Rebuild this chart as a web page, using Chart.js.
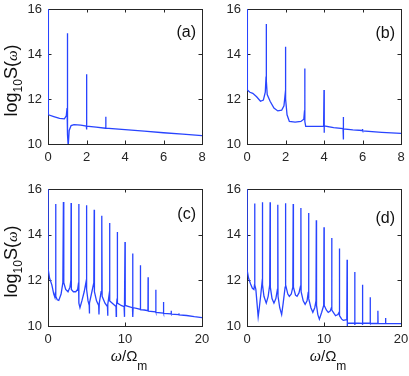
<!DOCTYPE html>
<html>
<head>
<meta charset="utf-8">
<script src="https://cdn.jsdelivr.net/npm/chart.js@4.4.1/dist/chart.umd.min.js"></script>
<style>
  html, body { margin: 0; padding: 0; background: #fff; }
  #wrap { position: relative; width: 409px; height: 376px; }
  #wrap canvas { position: absolute; left: 0; top: 0; }
</style>
</head>
<body>
<div id="wrap">
  <canvas id="pa" width="409" height="376"></canvas>
  <canvas id="pb" width="409" height="376"></canvas>
  <canvas id="pc" width="409" height="376"></canvas>
  <canvas id="pd" width="409" height="376"></canvas>
</div>
<script>
// panel (a)
const xA = [0.005, 0.02, 0.3, 0.6, 0.85, 0.95, 0.99, 1.0, 1.01, 1.03, 1.05, 1.1, 1.2, 1.35, 1.7, 1.99, 2.0, 2.005, 2.02, 2.5, 2.99, 3.0, 3.01, 4, 5, 6, 7, 8];
const yA = [16, 11.3, 11.22, 11.14, 11.12, 11.25, 11.6, 14.92, 11.2, 10.4, 9.9, 10.6, 10.82, 10.86, 10.84, 10.8, 13.1, 10.65, 10.79, 10.75, 10.7, 11.21, 10.7, 10.64, 10.57, 10.5, 10.44, 10.37];

// panel (b)
const xB = [0.005, 0.02, 0.15, 0.3, 0.5, 0.7, 0.85, 0.95, 0.99, 1.0, 1.01, 1.05, 1.2, 1.4, 1.6, 1.8, 1.92, 1.98, 2.0, 2.01, 2.08, 2.2, 2.5, 2.8, 2.95, 2.99, 3.0, 3.01, 3.05, 3.2, 3.6, 3.98, 4.0, 4.005, 4.02, 4.5, 4.99, 5.0, 5.005, 5.02, 5.5, 5.99, 6.0, 6.01, 7, 8];
const yB = [16, 12.4, 12.3, 12.25, 12.1, 11.9, 11.95, 12.3, 13.0, 15.33, 12.8, 12.2, 11.9, 11.6, 11.47, 11.5, 11.7, 12.2, 14.32, 12.0, 11.3, 11.0, 10.97, 11.0, 11.1, 11.5, 13.36, 11.0, 10.78, 10.78, 10.78, 10.78, 12.4, 10.5, 10.8, 10.73, 10.68, 11.2, 10.2, 10.67, 10.63, 10.6, 10.67, 10.58, 10.52, 10.47];

// panel (c)
const xC = [0.005, 0.02, 0.2, 0.5, 0.75, 0.9, 0.97, 1.0, 1.02, 1.2, 1.4, 1.7, 1.93, 2.0, 2.05, 2.3, 2.6, 2.85, 2.97, 3.0, 3.03, 3.3, 3.6, 3.85, 3.97, 4.0, 4.02, 4.15, 4.4, 4.7, 4.95, 5.0, 5.03, 5.2, 5.35, 5.37, 5.4, 5.7, 5.95, 6.0, 6.03, 6.3, 6.58, 6.62, 6.66, 6.9, 6.97, 7.0, 7.03, 7.4, 7.72, 7.75, 7.78, 7.95, 8.0, 8.03, 8.5, 8.83, 8.86, 8.89, 8.97, 9.0, 9.03, 9.5, 9.88, 9.9, 9.93, 9.98, 10.0, 10.03, 10.5, 10.97, 11.0, 11.02, 11.05, 11.5, 11.98, 12.0, 12.02, 12.5, 12.98, 13.0, 13.02, 13.99, 14.0, 14.02, 14.99, 15.0, 15.02, 15.99, 16.0, 16.02, 16.99, 17.0, 17.02, 18, 19, 20];
const yC = [16, 12.5, 12.1, 11.8, 11.4, 11.25, 11.5, 15.34, 11.3, 11.15, 11.12, 11.4, 11.9, 15.43, 11.9, 11.6, 11.5, 11.7, 12.0, 15.39, 11.6, 11.5, 11.5, 11.6, 11.9, 15.34, 11.0, 10.8, 11.1, 11.5, 11.95, 15.29, 11.6, 11.1, 10.9, 10.55, 11.0, 11.5, 11.9, 15.09, 11.5, 11.1, 10.9, 10.5, 11.0, 11.5, 11.7, 14.83, 11.3, 11.0, 10.85, 10.45, 10.95, 11.4, 14.51, 11.1, 10.95, 10.85, 10.42, 10.9, 11.2, 14.12, 11.0, 10.9, 10.85, 10.4, 10.88, 11.0, 13.68, 10.9, 10.85, 10.8, 13.18, 10.4, 10.8, 10.77, 10.73, 12.66, 10.72, 10.7, 10.67, 12.13, 10.65, 10.62, 11.59, 10.6, 10.57, 11.05, 10.55, 10.53, 10.67, 10.52, 10.5, 10.55, 10.49, 10.46, 10.41, 10.37];

// panel (d)
const xD = [0.005, 0.02, 0.2, 0.45, 0.7, 0.9, 0.97, 1.0, 1.02, 1.15, 1.3, 1.45, 1.6, 1.8, 1.95, 2.0, 2.03, 2.2, 2.5, 2.75, 2.95, 3.0, 3.03, 3.25, 3.5, 3.75, 3.95, 4.0, 4.03, 4.25, 4.5, 4.7, 4.95, 5.0, 5.03, 5.3, 5.5, 5.75, 5.95, 6.0, 6.03, 6.3, 6.5, 6.75, 6.95, 7.0, 7.03, 7.3, 7.55, 7.8, 7.96, 8.0, 8.03, 8.3, 8.55, 8.8, 8.96, 9.0, 9.03, 9.2, 9.4, 9.7, 9.96, 10.0, 10.03, 10.3, 10.55, 10.8, 10.96, 11.0, 11.03, 11.3, 11.5, 11.8, 11.96, 12.0, 12.03, 12.3, 12.5, 12.96, 13.0, 13.01, 13.05, 13.99, 14.0, 14.01, 14.03, 14.99, 15.0, 15.01, 15.03, 15.99, 16.0, 16.02, 16.99, 17.0, 17.02, 17.99, 18.0, 18.02, 18.99, 19.0, 19.02, 20];
const yD = [16, 12.45, 12.1, 11.85, 11.65, 11.6, 11.8, 15.36, 11.8, 11.6, 11.0, 10.4, 10.8, 11.4, 11.9, 15.42, 11.8, 11.3, 11.0, 11.3, 11.8, 15.42, 11.7, 11.2, 11.0, 11.2, 11.6, 15.31, 11.3, 10.8, 10.5, 11.0, 11.7, 15.38, 11.8, 11.4, 11.3, 11.4, 11.7, 15.34, 11.7, 11.35, 11.3, 11.45, 11.75, 15.17, 11.5, 11.1, 10.95, 11.1, 11.5, 14.95, 11.2, 10.8, 10.6, 10.8, 11.1, 14.63, 10.9, 10.5, 10.3, 10.6, 10.9, 14.32, 10.9, 10.7, 10.6, 10.65, 10.8, 13.85, 10.7, 10.55, 10.45, 10.5, 10.6, 13.39, 10.45, 10.3, 10.25, 10.28, 12.9, 10.0, 10.12, 10.13, 12.36, 10.05, 10.13, 10.12, 11.81, 10.05, 10.12, 10.12, 11.26, 10.11, 10.11, 10.67, 10.1, 10.1, 10.35, 10.1, 10.1, 10.13, 10.1, 10.1];

// tick labels
const xTicksTop = [0, 2, 4, 6, 8];
const xTicksBottom = [0, 10, 20];
const yTicks = [10, 12, 14, 16];

const W = 409, H = 376;
const YW = 40, XH = 20;
const lineColor = 'rgb(40,68,255)';
const axisColor = '#262626';
const sans = "'Liberation Sans', Arial, sans-serif";
const serif = "'Liberation Serif', 'Times New Roman', serif";

// frame and inward ticks go under the curve, labels on top
const decoPlugin = {
  id: 'deco',
  beforeDatasetsDraw(chart) {
    const ctx = chart.ctx;
    const a = chart.chartArea;
    const xs = chart.scales.x, ys = chart.scales.y;
    const tl = 3.5;
    ctx.save();
    ctx.strokeStyle = axisColor;
    ctx.lineWidth = 1;
    ctx.strokeRect(Math.round(a.left) + 0.5, Math.round(a.top) + 0.5, Math.round(a.right - a.left), Math.round(a.bottom - a.top));
    ctx.beginPath();
    xs.ticks.forEach(t => {
      const px = Math.round(xs.getPixelForValue(t.value)) + 0.5;
      ctx.moveTo(px, a.bottom); ctx.lineTo(px, a.bottom - tl);
      ctx.moveTo(px, a.top); ctx.lineTo(px, a.top + tl);
    });
    ys.ticks.forEach(t => {
      const py = Math.round(ys.getPixelForValue(t.value)) + 0.5;
      ctx.moveTo(a.left, py); ctx.lineTo(a.left + tl, py);
      ctx.moveTo(a.right, py); ctx.lineTo(a.right - tl, py);
    });
    ctx.stroke();
    ctx.restore();
  },
  afterDraw(chart, args, opts) {
    const ctx = chart.ctx;
    const a = chart.chartArea;
    ctx.save();

    // panel letter
    ctx.fillStyle = '#111';
    ctx.font = '16px ' + sans;
    ctx.textAlign = 'right';
    ctx.textBaseline = 'middle';
    ctx.fillText(opts.letter, a.right - 6, a.top + opts.letterDy);

    // y label: log10 S(w)
    if (opts.ylab) {
      const parts = [
        { t: 'log', f: '18px ' + sans, dy: 0 },
        { t: '10', f: '12px ' + sans, dy: 5 },
        { t: 'S(', f: '18px ' + sans, dy: 0 },
        { t: 'ω', f: 'italic 15px ' + serif, dy: 0 },
        { t: ')', f: '18px ' + sans, dy: 0 }
      ];
      let len = 0;
      parts.forEach(p => { ctx.font = p.f; p.w = ctx.measureText(p.t).width; len += p.w; });
      ctx.translate(16.5, (a.top + a.bottom) / 2 + 4);
      ctx.rotate(-Math.PI / 2);
      ctx.textAlign = 'left';
      ctx.textBaseline = 'alphabetic';
      let x = -len / 2;
      parts.forEach(p => { ctx.font = p.f; ctx.fillText(p.t, x, p.dy); x += p.w; });
      ctx.setTransform(1, 0, 0, 1, 0, 0);
    }

    // x label: w / Omega_m
    if (opts.xlab) {
      const parts = [
        { t: 'ω', f: 'italic 16px ' + serif, dy: 0 },
        { t: '/Ω', f: '15px ' + sans, dy: 0 },
        { t: 'm', f: '12px ' + sans, dy: 9 }
      ];
      let len = 0;
      parts.forEach(p => { ctx.font = p.f; p.w = ctx.measureText(p.t).width; len += p.w; });
      ctx.textAlign = 'left';
      ctx.textBaseline = 'alphabetic';
      let x = (a.left + a.right) / 2 + 4 - len / 2;
      parts.forEach(p => { ctx.font = p.f; ctx.fillText(p.t, x, 361 + p.dy); x += p.w; });
    }
    ctx.restore();
  }
};

function makePanel(id, xs, ys, area, xMax, xTickVals, deco) {
  const pts = xs.map((x, i) => ({ x: x, y: ys[i] }));
  return new Chart(document.getElementById(id), {
    type: 'scatter',
    data: {
      datasets: [{
        data: pts,
        showLine: true,
        borderColor: lineColor,
        borderWidth: 1.3,
        pointRadius: 0,
        tension: 0
      }]
    },
    options: {
      responsive: false,
      animation: false,
      devicePixelRatio: 1,
      events: [],
      layout: {
        padding: { left: area.left - YW, top: area.top, right: W - area.right, bottom: H - area.bottom - XH }
      },
      plugins: {
        legend: { display: false },
        tooltip: { enabled: false },
        deco: deco
      },
      scales: {
        x: {
          type: 'linear',
          min: 0,
          max: xMax,
          afterBuildTicks: s => { s.ticks = xTickVals.map(v => ({ value: v })); },
          afterFit: s => { s.height = XH; s.paddingLeft = 0; s.paddingRight = 0; },
          grid: { display: false, drawTicks: false },
          border: { display: false },
          ticks: { padding: 6, color: axisColor, maxRotation: 0, autoSkip: false, font: { family: sans, size: 13 } }
        },
        y: {
          type: 'linear',
          min: 10,
          max: 16,
          afterBuildTicks: s => { s.ticks = yTicks.map(v => ({ value: v })); },
          afterFit: s => { s.width = YW; s.paddingTop = 0; s.paddingBottom = 0; },
          grid: { display: false, drawTicks: false },
          border: { display: false },
          ticks: { padding: 6, color: axisColor, font: { family: sans, size: 13 } }
        }
      }
    },
    plugins: [decoPlugin]
  });
}

makePanel('pa', xA, yA, { left: 48, top: 9, right: 202, bottom: 144 }, 8, xTicksTop, { letter: '(a)', letterDy: 23.5, ylab: true, xlab: false });
makePanel('pb', xB, yB, { left: 247, top: 9, right: 401, bottom: 144 }, 8, xTicksTop, { letter: '(b)', letterDy: 25, ylab: false, xlab: false });
makePanel('pc', xC, yC, { left: 48, top: 189, right: 202, bottom: 326 }, 20, xTicksBottom, { letter: '(c)', letterDy: 25.5, ylab: true, xlab: true });
makePanel('pd', xD, yD, { left: 247, top: 189, right: 401, bottom: 326 }, 20, xTicksBottom, { letter: '(d)', letterDy: 30, ylab: false, xlab: true });
</script>
</body>
</html>
